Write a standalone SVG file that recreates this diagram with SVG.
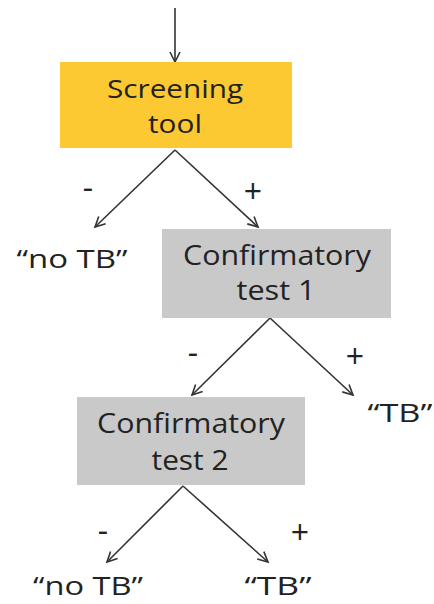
<svg xmlns="http://www.w3.org/2000/svg" width="434" height="604" viewBox="0 0 434 604">
<style>
  .t { font-family: "Open Sans", "Liberation Sans", sans-serif; fill: #222; text-anchor: middle; }
  .c { stroke: #333; stroke-width: 1.6; fill: none; marker-end: url(#ah); }
  .sign { font-family: "Open Sans", "Liberation Sans", sans-serif; fill: #222; font-size: 32px; text-anchor: middle; }
</style>
<defs>
  <marker id="ah" markerUnits="userSpaceOnUse" markerWidth="14" markerHeight="14" refX="11" refY="6" orient="auto">
    <path d="M1,1 L11,6 L1,11" fill="none" stroke="#333" stroke-width="1.6"/>
  </marker>
</defs>
<rect width="434" height="604" fill="#fff"/>
<g id="connectors">
  <line class="c" x1="175" y1="8" x2="175" y2="62"/>
  <line class="c" x1="175" y1="150" x2="95" y2="227"/>
  <line class="c" x1="175" y1="150" x2="258" y2="227"/>
  <line class="c" x1="270" y1="318" x2="192" y2="395"/>
  <line class="c" x1="270" y1="318" x2="353" y2="395"/>
  <line class="c" x1="183" y1="486" x2="107" y2="562"/>
  <line class="c" x1="183" y1="486" x2="268" y2="562"/>
  <text class="sign" x="88" y="199">-</text>
  <text class="sign" x="253" y="203">+</text>
  <text class="sign" x="193" y="364">-</text>
  <text class="sign" x="355" y="368">+</text>
  <text class="sign" x="103" y="542">-</text>
  <text class="sign" x="300" y="544">+</text>
</g>
<g id="screening">
  <rect x="60" y="62" width="232" height="86" fill="#FCC932"/>
  <text class="t" x="175" y="98" font-size="25" textLength="136" lengthAdjust="spacingAndGlyphs">Screening</text>
  <text class="t" x="175" y="133" font-size="25" textLength="54" lengthAdjust="spacingAndGlyphs">tool</text>
</g>
<g id="noTB1">
  <text class="t" x="72" y="268" font-size="26" textLength="111" lengthAdjust="spacingAndGlyphs">“no TB”</text>
</g>
<g id="confirm1">
  <rect x="162" y="229" width="229" height="89" fill="#C9C9C9"/>
  <text class="t" x="277" y="265" font-size="27" textLength="188" lengthAdjust="spacingAndGlyphs">Confirmatory</text>
  <text class="t" x="276" y="300" font-size="27" textLength="79" lengthAdjust="spacingAndGlyphs">test 1</text>
</g>
<g id="TB1">
  <text class="t" x="400" y="422" font-size="26" textLength="65" lengthAdjust="spacingAndGlyphs">“TB”</text>
</g>
<g id="confirm2">
  <rect x="77" y="397" width="228" height="88" fill="#C9C9C9"/>
  <text class="t" x="191" y="433" font-size="27" textLength="188" lengthAdjust="spacingAndGlyphs">Confirmatory</text>
  <text class="t" x="190" y="470" font-size="27" textLength="77" lengthAdjust="spacingAndGlyphs">test 2</text>
</g>
<g id="noTB2">
  <text class="t" x="88" y="595" font-size="25" textLength="110" lengthAdjust="spacingAndGlyphs">“no TB”</text>
</g>
<g id="TB2">
  <text class="t" x="278" y="595" font-size="25" textLength="67" lengthAdjust="spacingAndGlyphs">“TB”</text>
</g>
</svg>
